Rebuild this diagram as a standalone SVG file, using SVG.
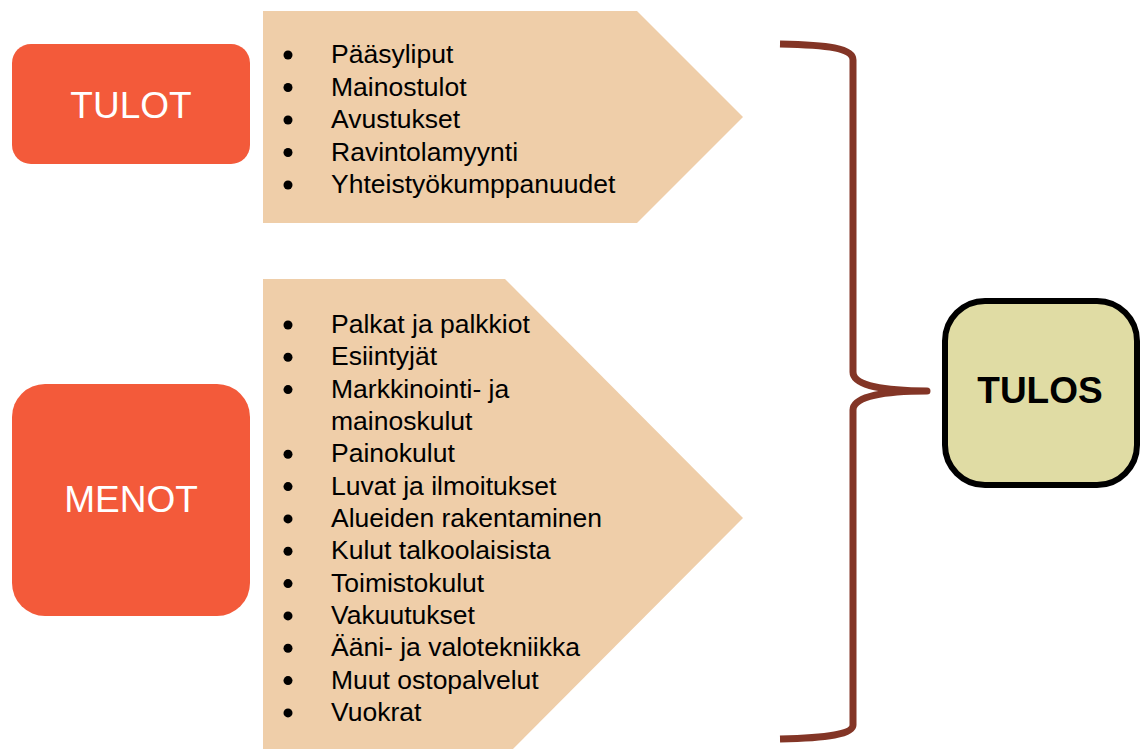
<svg xmlns="http://www.w3.org/2000/svg" width="1141" height="749" viewBox="0 0 1141 749">
<style>
.box{fill:#F35A3A}
.lbl{font-family:"Liberation Sans",Arial,sans-serif;font-size:37px;fill:#fff;text-anchor:middle}
.chev{fill:#EFCEA9}
.item{font-family:"Liberation Sans",Arial,sans-serif;font-size:26.5px;fill:#000}
.dot{fill:#000}
.brace{fill:none;stroke:#833526;stroke-width:7;stroke-linejoin:round}
</style>
<rect width="1141" height="749" fill="#fff"/>
<g id="tulot">
<rect class="box" x="12" y="44" width="238" height="120" rx="19"/>
<text class="lbl" x="131" y="118">TULOT</text>
</g>
<g id="tulot-list">
<polygon class="chev" points="263,11 637,11 743,117 637,223 263,223"/>
<g class="dot"><circle cx="288" cy="55" r="4.5"/><circle cx="288" cy="87.5" r="4.5"/><circle cx="288" cy="120" r="4.5"/><circle cx="288" cy="152.5" r="4.5"/><circle cx="288" cy="185" r="4.5"/></g>
<text class="item" x="331" y="63">Pääsyliput</text>
<text class="item" x="331" y="95.5">Mainostulot</text>
<text class="item" x="331" y="128">Avustukset</text>
<text class="item" x="331" y="160.5">Ravintolamyynti</text>
<text class="item" x="331" y="193">Yhteistyökumppanuudet</text>
</g>
<g id="menot">
<rect class="box" x="12" y="384" width="238" height="232" rx="33"/>
<text class="lbl" x="131" y="512">MENOT</text>
</g>
<g id="menot-list">
<polygon class="chev" points="263,279 505,279 743,518 505,757 263,757"/>
<g class="dot">
<circle cx="288" cy="325" r="4.5"/><circle cx="288" cy="357.3" r="4.5"/><circle cx="288" cy="389.6" r="4.5"/>
<circle cx="288" cy="454.3" r="4.5"/><circle cx="288" cy="486.6" r="4.5"/><circle cx="288" cy="518.9" r="4.5"/>
<circle cx="288" cy="551.2" r="4.5"/><circle cx="288" cy="583.6" r="4.5"/><circle cx="288" cy="615.9" r="4.5"/>
<circle cx="288" cy="648.2" r="4.5"/><circle cx="288" cy="680.6" r="4.5"/><circle cx="288" cy="712.9" r="4.5"/>
</g>
<text class="item" x="331" y="333">Palkat ja palkkiot</text>
<text class="item" x="331" y="365.3">Esiintyjät</text>
<text class="item" x="331" y="397.6">Markkinointi- ja</text>
<text class="item" x="331" y="430">mainoskulut</text>
<text class="item" x="331" y="462.3">Painokulut</text>
<text class="item" x="331" y="494.6">Luvat ja ilmoitukset</text>
<text class="item" x="331" y="526.9">Alueiden rakentaminen</text>
<text class="item" x="331" y="559.2">Kulut talkoolaisista</text>
<text class="item" x="331" y="591.6">Toimistokulut</text>
<text class="item" x="331" y="623.9">Vakuutukset</text>
<text class="item" x="331" y="656.2">Ääni- ja valotekniikka</text>
<text class="item" x="331" y="688.6">Muut ostopalvelut</text>
<text class="item" x="331" y="720.9">Vuokrat</text>
</g>
<g id="connectors">
<path class="brace" d="M780,44 C828,45 853,48 853,60 L853,372 C853,386 885,391 927,391 C885,391 853,396 853,410 L853,725 C853,734 828,738 780,739"/>
</g>
<g id="tulos">
<rect x="945" y="301" width="192" height="184" rx="40" fill="#E0DCA4" stroke="#000" stroke-width="6"/>
<text x="1040" y="403" font-family="'Liberation Sans',Arial,sans-serif" font-size="37" font-weight="bold" text-anchor="middle" fill="#000">TULOS</text>
</g>
</svg>
